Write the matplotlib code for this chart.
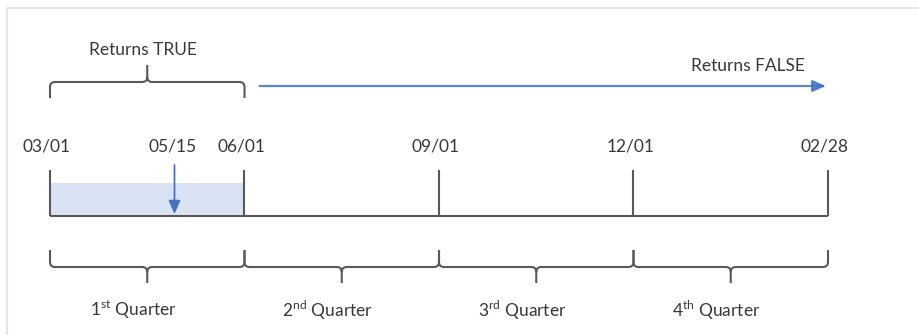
import matplotlib
matplotlib.use("Agg")
import matplotlib.pyplot as plt
from matplotlib.path import Path
from matplotlib.patches import PathPatch, Rectangle

plt.rcParams['font.family'] = ['Lato', 'DejaVu Sans']
plt.rcParams['mathtext.fontset'] = 'custom'
plt.rcParams['mathtext.rm'] = 'Lato'

# ---- data ----
boundary_pos = [0, 1, 2, 3, 4]
boundary_labels = ['03/01', '06/01', '09/01', '12/01', '02/28']
check_label = '05/15'
check_pos = 0.64
true_span = [0, 1]
quarter_labels = [r'1$^{\rm st}$ Quarter', r'2$^{\rm nd}$ Quarter',
                  r'3$^{\rm rd}$ Quarter', r'4$^{\rm th}$ Quarter']
true_text = 'Returns TRUE'
false_text = 'Returns FALSE'

# ---- style ----
PX = 194.5           # pixels per quarter
X0 = 50              # pixel of first boundary
GRAY = '#595959'
TEXT = '#383838'
BLUE = '#4472c4'
SHADE = '#dae3f3'
LW = 1.5

fig = plt.figure(figsize=(9.2, 3.35), dpi=100)
ax = fig.add_axes([0, 0, 1, 1])
ax.set_xlim(-X0 / PX, (920 - X0) / PX)
ax.set_ylim(335, 0)
ax.axis('off')

def px(v):
    return v / PX

# frame
ax.plot([px(7 - X0), px(7 - X0)], [335, 8], color='#e6e6e6', lw=1.6, solid_capstyle='butt')
ax.plot([px(7 - X0), px(920 - X0)], [8, 8], color='#e6e6e6', lw=1.6, solid_capstyle='butt')

def brace(x0, x1, y_end, y_line, y_tip, r=5):
    d = 1 if y_end > y_line else -1
    rx = px(r)
    xm = (x0 + x1) / 2
    verts = [(x0, y_end), (x0, y_line + d * r), (x0, y_line), (x0 + rx, y_line),
             (xm - rx, y_line), (xm, y_line), (xm, y_line - d * r), (xm, y_tip),
             (xm, y_line - d * r), (xm, y_line), (xm + rx, y_line),
             (x1 - rx, y_line), (x1, y_line), (x1, y_line + d * r), (x1, y_end)]
    codes = [Path.MOVETO, Path.LINETO, Path.CURVE3, Path.CURVE3,
             Path.LINETO, Path.CURVE3, Path.CURVE3, Path.LINETO,
             Path.MOVETO, Path.CURVE3, Path.CURVE3,
             Path.LINETO, Path.CURVE3, Path.CURVE3, Path.LINETO]
    ax.add_patch(PathPatch(Path(verts, codes), fill=False, edgecolor=GRAY, lw=LW,
                           capstyle='butt', joinstyle='round'))
    return xm

# shaded TRUE region
ax.add_patch(Rectangle((true_span[0], 183), true_span[1] - true_span[0], 216 - 183,
                       facecolor=SHADE, edgecolor='none'))

# timeline
ax.plot([boundary_pos[0], boundary_pos[-1]], [216, 216], color=GRAY, lw=LW,
        solid_capstyle='butt')
for p, lab in zip(boundary_pos, boundary_labels):
    ax.plot([p, p], [170, 216], color=GRAY, lw=LW, solid_capstyle='butt')
    ax.text(p - px(3), 147, lab, ha='center', va='center', fontsize=12.5, color=TEXT)

# checked date arrow
ax.annotate('', xy=(check_pos, 214), xytext=(check_pos, 165),
            arrowprops=dict(arrowstyle='-|>,head_length=0.8,head_width=0.35',
                            color=BLUE, lw=1.3, shrinkA=0, shrinkB=0))
ax.text(check_pos - px(2), 147, check_label, ha='center', va='center', fontsize=12.5, color=TEXT)

# TRUE brace
xm = brace(true_span[0], true_span[1], 98, 82, 65)
ax.text(xm - px(4), 50, true_text, ha='center', va='center', fontsize=12.5, color=TEXT)

# FALSE arrow
ax.annotate('', xy=(boundary_pos[-1] - px(2), 86), xytext=(true_span[1] + px(15), 86),
            arrowprops=dict(arrowstyle='-|>,head_length=0.8,head_width=0.35',
                            color=BLUE, lw=1.6, shrinkA=0, shrinkB=0, alpha=0.85))
ax.text(boundary_pos[-1] - px(80), 66, false_text, ha='center', va='center',
        fontsize=12.5, color=TEXT)

# quarter braces
for i, lab in enumerate(quarter_labels):
    xm = brace(boundary_pos[i], boundary_pos[i + 1], 250, 267, 283)
    ax.text(xm - px(14), 310, lab, ha='center', va='center', fontsize=12.5, color=TEXT)

fig.savefig('out.png', dpi=100, facecolor='white')
